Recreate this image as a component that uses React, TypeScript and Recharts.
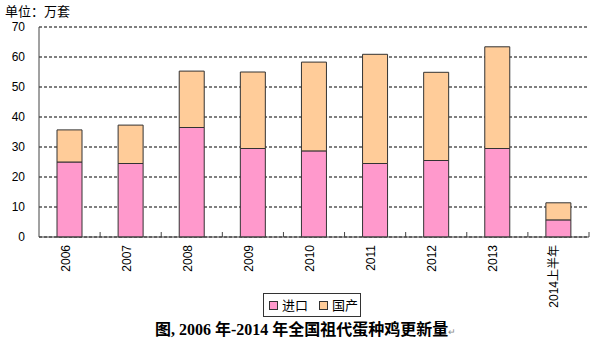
import { BarChart, Bar, XAxis, YAxis, CartesianGrid } from 'recharts';

const years = ['2006', '2007', '2008', '2009', '2010', '2011', '2012', '2013', '2014上半年'];
const importValues = [25, 24.5, 36.5, 29.5, 28.7, 24.5, 25.5, 29.5, 5.7];
const domesticValues = [10.7, 12.8, 18.8, 25.5, 29.6, 36.4, 29.4, 33.9, 5.7];
const yTicks = [0, 10, 20, 30, 40, 50, 60, 70];

const data = years.map((year, i) => ({
  year,
  import: importValues[i],
  domestic: domesticValues[i],
}));

const W = 601;
const H = 351;
const LEFT = 39;
const RIGHT = 12;
const BAND = (W - LEFT - RIGHT) / years.length;
const FRAME = '#444';
const FONT = '"Liberation Sans", Arial, "Noto Sans CJK SC", sans-serif';

function YearTick(props: any) {
  const { x, y, payload } = props;
  return (
    <g>
      <line x1={x + BAND / 2} y1={y} x2={x + BAND / 2} y2={y - 5} stroke={FRAME} strokeWidth={1} />
      <text
        x={x}
        y={y + 8}
        transform={`rotate(-90, ${x}, ${y + 8})`}
        textAnchor="end"
        fontSize={12}
        fontFamily={FONT}
        fill="#000"
      >
        {payload.value}
      </text>
    </g>
  );
}

export default function App() {
  return (
    <div style={{ position: 'absolute', left: 0, top: 0, width: W, height: H, background: '#fff', overflow: 'hidden' }}>
      <div
        style={{
          position: 'absolute',
          left: 5,
          top: 4,
          fontSize: 13,
          lineHeight: '13px',
          fontFamily: '"Noto Sans CJK SC", sans-serif',
          color: '#000',
        }}
      >
        单位：万套
      </div>

      <BarChart width={W} height={H} data={data} margin={{ top: 27, right: RIGHT, left: 0, bottom: 0 }}>
        <CartesianGrid vertical={false} stroke="#000" strokeDasharray="3 2" />
        <XAxis
          dataKey="year"
          height={114}
          interval={0}
          tickSize={0}
          tickMargin={0}
          tickLine={false}
          axisLine={{ stroke: FRAME }}
          tick={<YearTick />}
        />
        <XAxis xAxisId="top" dataKey="year" orientation="top" height={0} tick={false} tickLine={false} axisLine={{ stroke: FRAME }} />
        <YAxis
          width={LEFT}
          domain={[0, 70]}
          ticks={yTicks}
          tickLine={false}
          tickSize={0}
          tickMargin={14}
          axisLine={{ stroke: FRAME }}
          tick={{ fontSize: 12, fill: '#000', fontFamily: FONT }}
        />
        <YAxis yAxisId="right" orientation="right" width={0} domain={[0, 70]} tick={false} tickLine={false} axisLine={{ stroke: FRAME }} />
        <Bar dataKey="import" name="进口" stackId="a" fill="#FF99CC" stroke="#333" strokeWidth={1} barSize={25} isAnimationActive={false} />
        <Bar dataKey="domestic" name="国产" stackId="a" fill="#FFCC99" stroke="#333" strokeWidth={1} barSize={25} isAnimationActive={false} />
      </BarChart>

      <div
        style={{
          position: 'absolute',
          left: 263,
          top: 293,
          width: 96,
          height: 22,
          border: '1px solid #333',
          display: 'flex',
          alignItems: 'center',
          fontSize: 13,
          lineHeight: '16px',
          whiteSpace: 'nowrap',
          fontFamily: '"Noto Sans CJK SC", sans-serif',
          color: '#000',
        }}
      >
        <span style={{ flexShrink: 0, width: 7, height: 7, border: '1px solid #333', background: '#FF99CC', marginLeft: 5, marginRight: 4 }} />
        <span style={{ flexShrink: 0 }}>进口</span>
        <span style={{ flexShrink: 0, width: 7, height: 7, border: '1px solid #333', background: '#FFCC99', marginLeft: 11, marginRight: 4 }} />
        <span style={{ flexShrink: 0 }}>国产</span>
      </div>

      <div
        style={{
          position: 'absolute',
          left: 155,
          top: 320,
          fontSize: 16,
          lineHeight: '20px',
          fontWeight: 'bold',
          fontFamily: '"Liberation Serif", "Noto Sans CJK SC", serif',
          color: '#000',
          whiteSpace: 'nowrap',
        }}
      >
        图, 2006 年-2014 年全国祖代蛋种鸡更新量
        <span style={{ fontSize: 9, fontWeight: 'normal', color: '#888' }}>↵</span>
      </div>
    </div>
  );
}
